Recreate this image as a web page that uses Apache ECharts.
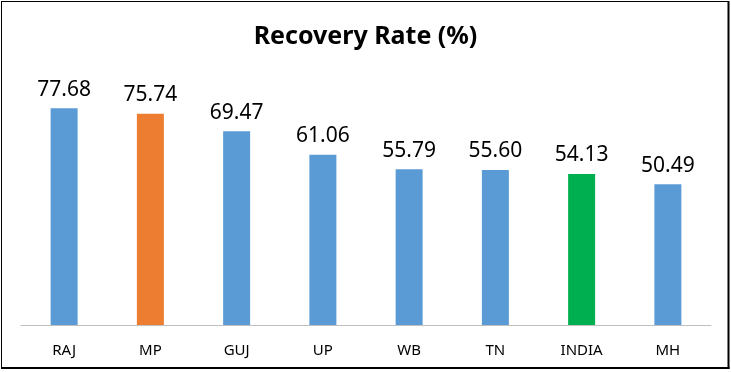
<!DOCTYPE html>
<html>
<head>
<meta charset="utf-8">
<script src="https://cdn.jsdelivr.net/npm/echarts@6/dist/echarts.min.js"></script>
<style>
html,body{margin:0;padding:0;background:#fff;}
#chart{width:731px;height:372px;}
</style>
</head>
<body>
<div id="chart"></div>
<script>
const categories = ['RAJ', 'MP', 'GUJ', 'UP', 'WB', 'TN', 'INDIA', 'MH'];
const recoveryRate = [77.68, 75.74, 69.47, 61.06, 55.79, 55.60, 54.13, 50.49];
const barColors = ['#5B9BD5', '#ED7D31', '#5B9BD5', '#5B9BD5', '#5B9BD5', '#5B9BD5', '#00B050', '#5B9BD5'];
const titleText = 'Recovery Rate (%)';

const chart = echarts.init(document.getElementById('chart'), null, {renderer: 'canvas'});
chart.setOption({
  animation: false,
  backgroundColor: '#fff',
  title: {
    text: titleText,
    left: 'center',
    top: 19,
    textStyle: {fontFamily: 'Noto Sans', fontWeight: 'bold', fontSize: 25, color: '#000'}
  },
  grid: {left: 21, right: 20, top: 46, bottom: 47, containLabel: false},
  xAxis: {
    type: 'category',
    data: categories,
    axisLine: {lineStyle: {color: '#bfbfbf', width: 1}},
    axisTick: {show: false},
    axisLabel: {fontFamily: 'Noto Sans', fontSize: 15, color: '#000', margin: 18}
  },
  yAxis: {
    type: 'value',
    min: 0, max: 100,
    show: false,
    splitLine: {show: false}
  },
  series: [{
    type: 'bar',
    barWidth: 27,
    data: recoveryRate.map((v, i) => ({value: v, itemStyle: {color: barColors[i]}})),
    label: {
      show: true,
      position: 'top',
      distance: 8,
      formatter: p => p.value.toFixed(2),
      fontFamily: 'Noto Sans',
      fontSize: 21,
      color: '#000'
    }
  }],
  graphic: [
    {type: 'line', shape: {x1: 1.5, y1: 1, x2: 1.5, y2: 369}, style: {stroke: '#000', lineWidth: 1}},
    {type: 'line', shape: {x1: 1, y1: 1.5, x2: 729, y2: 1.5}, style: {stroke: '#000', lineWidth: 1}},
    {type: 'line', shape: {x1: 728.5, y1: 1, x2: 728.5, y2: 369}, style: {stroke: '#000', lineWidth: 2}},
    {type: 'line', shape: {x1: 1, y1: 368, x2: 729.5, y2: 368}, style: {stroke: '#000', lineWidth: 2}}
  ]
});
</script>
</body>
</html>
